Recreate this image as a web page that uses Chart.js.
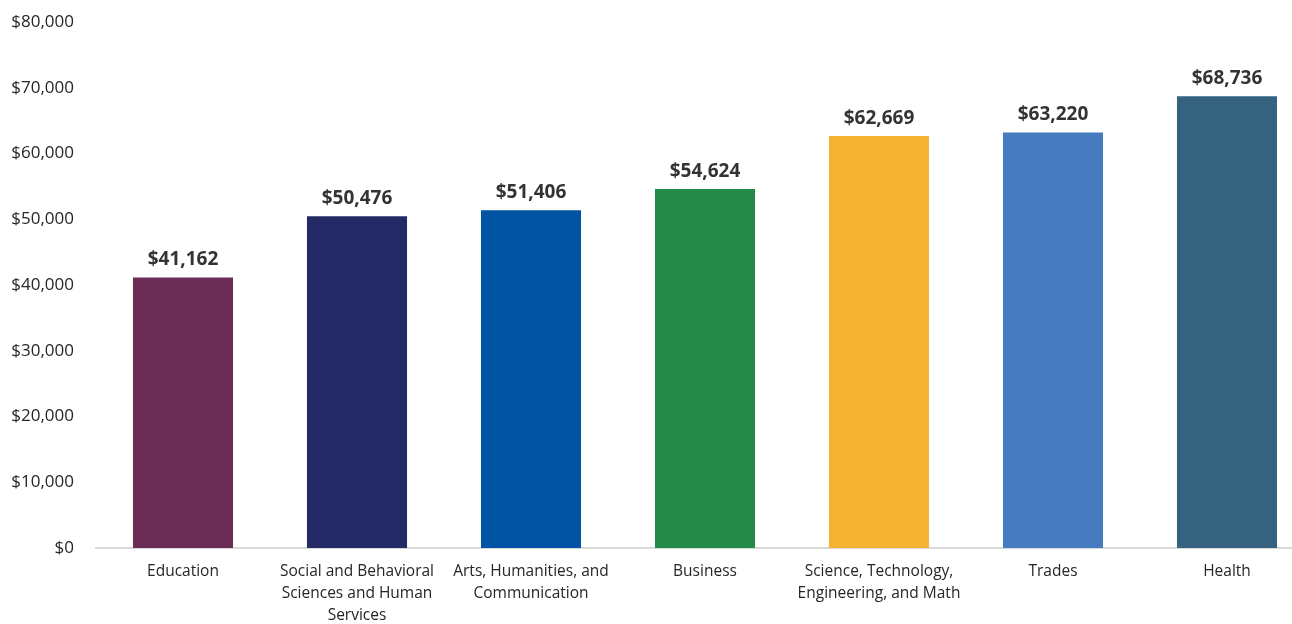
<!DOCTYPE html>
<html>
<head>
<meta charset="utf-8">
<script src="https://cdn.jsdelivr.net/npm/chart.js@4/dist/chart.umd.min.js"></script>
<style>
  html, body { margin: 0; padding: 0; background: #fff; overflow: hidden; }
  #wrap { width: 1292px; height: 624px; overflow: hidden; }
  #salary { display: block; margin-top: -10px; }
</style>
</head>
<body>
<div id="wrap"><canvas id="salary" width="1314" height="634"></canvas></div>
<script>
var fields = [
  "Education",
  ["Social and Behavioral", "Sciences and Human", "Services"],
  ["Arts, Humanities, and", "Communication"],
  "Business",
  ["Science, Technology,", "Engineering, and Math"],
  "Trades",
  "Health"
];
var salaries = [41162, 50476, 51406, 54624, 62669, 63220, 68736];
var barColors = ["#6b2c55", "#232a66", "#0054a3", "#238a4a", "#f5b331", "#477bbf", "#35637f"];
var yTicks = [0, 10000, 20000, 30000, 40000, 50000, 60000, 70000, 80000];

var FONT = "'Open Sans', 'Liberation Sans', sans-serif";

function money(v) {
  return "$" + v.toLocaleString("en-US");
}

// value labels above each bar
var barValues = {
  id: "barValues",
  afterDatasetsDraw: function (chart) {
    var ctx = chart.ctx;
    var meta = chart.getDatasetMeta(0);
    ctx.save();
    ctx.font = "bold 19px " + FONT;
    ctx.fillStyle = "#333333";
    ctx.textAlign = "center";
    ctx.textBaseline = "bottom";
    meta.data.forEach(function (bar, i) {
      ctx.fillText(money(salaries[i]), bar.x, bar.y - 8);
    });
    ctx.restore();
  }
};

new Chart(document.getElementById("salary"), {
  type: "bar",
  data: {
    labels: fields,
    datasets: [{
      data: salaries,
      backgroundColor: barColors,
      barPercentage: 1,
      categoryPercentage: 0.575
    }]
  },
  options: {
    responsive: false,
    animation: false,
    layout: { padding: { top: 3, right: 0, bottom: 0, left: 0 } },
    plugins: {
      legend: { display: false },
      tooltip: { enabled: false }
    },
    scales: {
      x: {
        afterFit: function (s) { s.height = 76; },
        grid: { display: false, drawTicks: false },
        border: { display: true, color: "#d9d9d9", width: 2 },
        ticks: {
          color: "#262626",
          font: { family: FONT, size: 15.5, lineHeight: 1.42 },
          padding: 13,
          maxRotation: 0,
          autoSkip: false
        }
      },
      y: {
        min: 0,
        max: 80000,
        afterFit: function (s) { s.width = 96; },
        afterBuildTicks: function (s) {
          s.ticks = yTicks.map(function (v) { return { value: v }; });
        },
        grid: { display: false, drawTicks: false },
        border: { display: false },
        ticks: {
          color: "#262626",
          font: { family: FONT, size: 17 },
          padding: 22,
          callback: function (v) { return money(v); }
        }
      }
    }
  },
  plugins: [barValues]
});
</script>
</body>
</html>
